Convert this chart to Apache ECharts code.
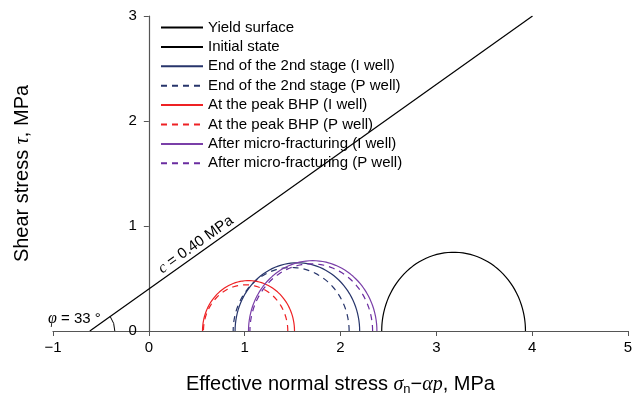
<!DOCTYPE html>
<html>
<head>
<meta charset="utf-8">
<script src="https://cdn.jsdelivr.net/npm/echarts@6/dist/echarts.min.js"></script>
<style>
  html, body { margin: 0; padding: 0; background: #fff; }
  #chart { width: 638px; height: 393px; }
</style>
</head>
<body>
<div id="chart"></div>
<script>
// Mohr circles: name, centre, radius (MPa), colour, dashed?
const circleNames = [
  'Initial state',
  'End of the 2nd stage (I well)',
  'End of the 2nd stage (P well)',
  'At the peak BHP (I well)',
  'At the peak BHP (P well)',
  'After micro-fracturing (I well)',
  'After micro-fracturing (P well)'
]
const centres = [3.18, 1.55, 1.485, 1.04, 1.01, 1.71, 1.695]
const radii = [0.75, 0.65, 0.605, 0.48, 0.44, 0.67, 0.64]
const colours = ['#000000', '#27356b', '#27356b', '#ee2124', '#ee2124', '#7a3fa8', '#6a2ca0']
const dashed = [false, false, true, false, true, false, true]

// yield surface: cohesion c and friction angle phi
const cohesion = 0.40
const phiDeg = 33
const xTicks = [-1, 0, 1, 2, 3, 4, 5]
const yTicks = [0, 1, 2, 3]

const tanPhi = Math.tan(phiDeg * Math.PI / 180)
const x0 = -cohesion / tanPhi
const xTop = (yTicks[yTicks.length - 1] - cohesion) / tanPhi

const gridLeft = 53
const gridRight = 10
const chartWidth = 638

function circlePoints(c, r) {
  const pts = []
  const n = 120
  for (let i = 0; i <= n; i++) {
    const t = Math.PI * i / n
    pts.push([c + r * Math.cos(t), r * Math.sin(t)])
  }
  return pts
}

const series = [
  {
    name: 'Yield surface',
    type: 'line',
    symbol: 'none',
    data: [[x0, 0], [xTop, yTicks[yTicks.length - 1]]],
    lineStyle: { color: '#000', width: 1.2 },
    itemStyle: { color: '#000' }
  }
]
circleNames.forEach((name, i) => {
  series.push({
    name,
    type: 'line',
    symbol: 'none',
    smooth: false,
    data: circlePoints(centres[i], radii[i]),
    lineStyle: { color: colours[i], width: 1.2, type: dashed[i] ? [6, 5] : 'solid' },
    itemStyle: { color: colours[i] }
  })
})

// angle arc and text labels
series.push({
  type: 'custom',
  silent: true,
  data: [[x0, 0]],
  renderItem(params, api) {
    const p0 = api.coord([x0, 0])
    const p1 = api.coord([xTop, yTicks[yTicks.length - 1]])
    const ang = Math.atan2(p0[1] - p1[1], p1[0] - p0[0])
    const cx = 0.52
    const pc = api.coord([cx, cohesion + tanPhi * cx])
    const off = 3
    return {
      type: 'group',
      children: [
        {
          type: 'arc',
          shape: { cx: p0[0], cy: p0[1], r: 25, startAngle: -ang, endAngle: 0 },
          style: { stroke: '#000', fill: null, lineWidth: 1 }
        },
        {
          type: 'text',
          x: p0[0] + 11,
          y: p0[1] - 12,
          style: {
            text: '{i|φ} = 33 °',
            align: 'right',
            verticalAlign: 'middle',
            fontFamily: 'Liberation Sans, Arial',
            fontSize: 15,
            fill: '#000',
            rich: { i: { fontStyle: 'italic', fontSize: 16, fontFamily: 'Liberation Serif' } }
          }
        },
        {
          type: 'text',
          x: pc[0] + off * Math.sin(ang),
          y: pc[1] - off * Math.cos(ang),
          rotation: ang,
          style: {
            text: '{i|c} = 0.40 MPa',
            align: 'center',
            verticalAlign: 'bottom',
            fontFamily: 'Liberation Sans, Arial',
            fontSize: 15,
            fill: '#000',
            rich: { i: { fontStyle: 'italic', fontSize: 16, fontFamily: 'Liberation Serif' } }
          }
        }
      ]
    }
  }
})

// y axis sits at x = 0, shift it from the grid's left edge
const zeroShift = (chartWidth - gridLeft - gridRight) * (0 - xTicks[0]) / (xTicks[xTicks.length - 1] - xTicks[0])

const chart = echarts.init(document.getElementById('chart'))
chart.setOption({
  animation: false,
  textStyle: { fontFamily: 'Liberation Sans, Arial' },
  grid: { left: gridLeft, right: gridRight, top: 16, bottom: 62, containLabel: false, outerBoundsMode: 'none' },
  legend: {
    data: ['Yield surface'].concat(circleNames),
    orient: 'vertical',
    left: 155,
    top: 15,
    itemWidth: 42,
    itemHeight: 14,
    itemGap: 4.4,
    itemStyle: { opacity: 0 },
    textStyle: { fontSize: 15, color: '#000' }
  },
  xAxis: {
    type: 'value',
    min: xTicks[0],
    max: xTicks[xTicks.length - 1],
    interval: 1,
    splitLine: { show: false },
    axisLine: { onZero: false, lineStyle: { color: '#555', width: 1.2 } },
    axisTick: { show: true, length: 5, lineStyle: { color: '#555' } },
    axisLabel: {
      fontSize: 15,
      color: '#000',
      margin: 9,
      formatter: v => String(v).replace('-', '\u2212')
    },
    name: 'Effective normal stress {s|σ}{sub|n}\u2212{i|α}{i|p}, MPa',
    nameLocation: 'middle',
    nameGap: 42,
    nameTextStyle: {
      fontSize: 20,
      color: '#000',
      rich: {
        s: { fontSize: 20, fontFamily: 'Liberation Serif', fontStyle: 'italic' },
        i: { fontSize: 20, fontStyle: 'italic', fontFamily: 'Liberation Serif' },
        sub: { fontSize: 13, padding: [10, 0, 0, 0] }
      }
    }
  },
  yAxis: {
    type: 'value',
    min: yTicks[0],
    max: yTicks[yTicks.length - 1],
    interval: 1,
    offset: -zeroShift,
    splitLine: { show: false },
    axisLine: { show: true, onZero: false, lineStyle: { color: '#555', width: 1.2 } },
    axisTick: { show: true, length: 5, lineStyle: { color: '#555' } },
    axisLabel: { fontSize: 15, color: '#000', margin: 12 },
    name: 'Shear stress {i|τ}, MPa',
    nameLocation: 'middle',
    nameRotate: 90,
    nameGap: 116,
    nameTextStyle: {
      fontSize: 20,
      color: '#000',
      rich: { i: { fontSize: 20, fontStyle: 'italic', fontFamily: 'Liberation Serif' } }
    }
  },
  series
})
</script>
</body>
</html>
